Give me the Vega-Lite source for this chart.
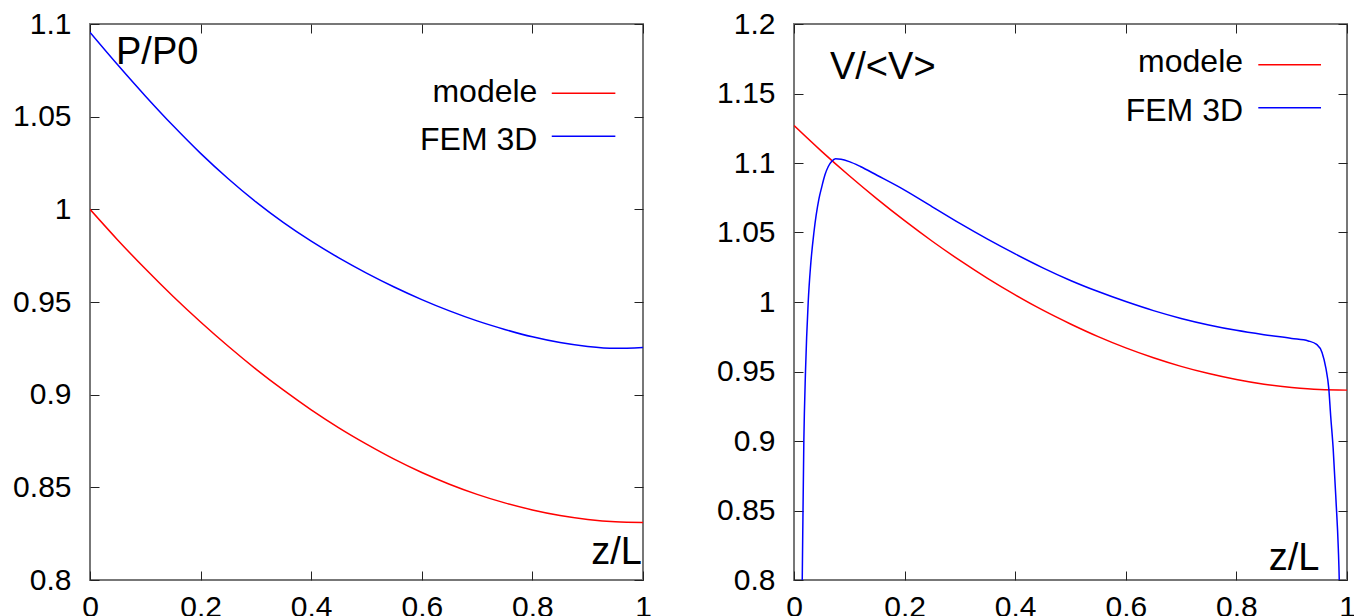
{
  "$schema": "https://vega.github.io/schema/vega-lite/v6.json",
  "background": "white",
  "padding": {"left": 11, "top": 8, "right": 0, "bottom": 0},
  "spacing": 62,
  "config": {
    "view": {"stroke": "#777777", "strokeWidth": 2},
    "axis": {"grid": false, "domain": false, "tickSize": -9, "tickColor": "#222222", "tickWidth": 1, "labelFont": "Liberation Sans", "labelFontSize": 30, "labelColor": "#000000", "labelFlush": false, "labelOverlap": false, "labelBound": false, "title": null},
    "text": {"font": "Liberation Sans", "color": "#000000"}
  },
  "datasets": {
    "left": [
      {"z": 0.0, "p": 1.0, "series": "modele"},
      {"z": 0.05, "p": 0.9835, "series": "modele"},
      {"z": 0.1, "p": 0.9679, "series": "modele"},
      {"z": 0.15, "p": 0.9531, "series": "modele"},
      {"z": 0.2, "p": 0.9392, "series": "modele"},
      {"z": 0.25, "p": 0.9261, "series": "modele"},
      {"z": 0.3, "p": 0.9138, "series": "modele"},
      {"z": 0.35, "p": 0.9024, "series": "modele"},
      {"z": 0.4, "p": 0.8918, "series": "modele"},
      {"z": 0.45, "p": 0.8821, "series": "modele"},
      {"z": 0.5, "p": 0.8733, "series": "modele"},
      {"z": 0.55, "p": 0.8652, "series": "modele"},
      {"z": 0.6, "p": 0.858, "series": "modele"},
      {"z": 0.65, "p": 0.8517, "series": "modele"},
      {"z": 0.7, "p": 0.8462, "series": "modele"},
      {"z": 0.75, "p": 0.8416, "series": "modele"},
      {"z": 0.8, "p": 0.8378, "series": "modele"},
      {"z": 0.85, "p": 0.8348, "series": "modele"},
      {"z": 0.9, "p": 0.8327, "series": "modele"},
      {"z": 0.95, "p": 0.8314, "series": "modele"},
      {"z": 1.0, "p": 0.831, "series": "modele"},
      {"z": 0.0, "p": 1.0955, "series": "FEM 3D"},
      {"z": 0.05, "p": 1.078, "series": "FEM 3D"},
      {"z": 0.1, "p": 1.0612, "series": "FEM 3D"},
      {"z": 0.15, "p": 1.0452, "series": "FEM 3D"},
      {"z": 0.2, "p": 1.0302, "series": "FEM 3D"},
      {"z": 0.25, "p": 1.0165, "series": "FEM 3D"},
      {"z": 0.3, "p": 1.004, "series": "FEM 3D"},
      {"z": 0.35, "p": 0.9928, "series": "FEM 3D"},
      {"z": 0.4, "p": 0.9828, "series": "FEM 3D"},
      {"z": 0.45, "p": 0.9738, "series": "FEM 3D"},
      {"z": 0.5, "p": 0.9656, "series": "FEM 3D"},
      {"z": 0.55, "p": 0.9581, "series": "FEM 3D"},
      {"z": 0.6, "p": 0.9513, "series": "FEM 3D"},
      {"z": 0.65, "p": 0.9452, "series": "FEM 3D"},
      {"z": 0.7, "p": 0.9398, "series": "FEM 3D"},
      {"z": 0.75, "p": 0.9352, "series": "FEM 3D"},
      {"z": 0.8, "p": 0.9312, "series": "FEM 3D"},
      {"z": 0.85, "p": 0.9281, "series": "FEM 3D"},
      {"z": 0.9, "p": 0.926, "series": "FEM 3D"},
      {"z": 0.95, "p": 0.925, "series": "FEM 3D"},
      {"z": 1.0, "p": 0.9255, "series": "FEM 3D"}
    ],
    "right": [
      {"z": 0.0, "v": 1.127, "series": "modele"},
      {"z": 0.05, "v": 1.1084, "series": "modele"},
      {"z": 0.1, "v": 1.0908, "series": "modele"},
      {"z": 0.15, "v": 1.0742, "series": "modele"},
      {"z": 0.2, "v": 1.0585, "series": "modele"},
      {"z": 0.25, "v": 1.0437, "series": "modele"},
      {"z": 0.3, "v": 1.0299, "series": "modele"},
      {"z": 0.35, "v": 1.017, "series": "modele"},
      {"z": 0.4, "v": 1.0051, "series": "modele"},
      {"z": 0.45, "v": 0.9941, "series": "modele"},
      {"z": 0.5, "v": 0.9842, "series": "modele"},
      {"z": 0.55, "v": 0.9751, "series": "modele"},
      {"z": 0.6, "v": 0.967, "series": "modele"},
      {"z": 0.65, "v": 0.9599, "series": "modele"},
      {"z": 0.7, "v": 0.9537, "series": "modele"},
      {"z": 0.75, "v": 0.9485, "series": "modele"},
      {"z": 0.8, "v": 0.9442, "series": "modele"},
      {"z": 0.85, "v": 0.9408, "series": "modele"},
      {"z": 0.9, "v": 0.9385, "series": "modele"},
      {"z": 0.95, "v": 0.937, "series": "modele"},
      {"z": 1.0, "v": 0.9366, "series": "modele"},
      {"z": 0.008, "v": 0.55, "series": "FEM 3D"},
      {"z": 0.0149, "v": 0.8, "series": "FEM 3D"},
      {"z": 0.0178, "v": 0.9, "series": "FEM 3D"},
      {"z": 0.0208, "v": 0.95, "series": "FEM 3D"},
      {"z": 0.0257, "v": 1.0, "series": "FEM 3D"},
      {"z": 0.03, "v": 1.026, "series": "FEM 3D"},
      {"z": 0.036, "v": 1.05, "series": "FEM 3D"},
      {"z": 0.045, "v": 1.074, "series": "FEM 3D"},
      {"z": 0.05, "v": 1.0825, "series": "FEM 3D"},
      {"z": 0.056, "v": 1.0915, "series": "FEM 3D"},
      {"z": 0.062, "v": 1.0975, "series": "FEM 3D"},
      {"z": 0.068, "v": 1.101, "series": "FEM 3D"},
      {"z": 0.075, "v": 1.103, "series": "FEM 3D"},
      {"z": 0.085, "v": 1.1027, "series": "FEM 3D"},
      {"z": 0.1, "v": 1.101, "series": "FEM 3D"},
      {"z": 0.12, "v": 1.0975, "series": "FEM 3D"},
      {"z": 0.15, "v": 1.0912, "series": "FEM 3D"},
      {"z": 0.2, "v": 1.0805, "series": "FEM 3D"},
      {"z": 0.25, "v": 1.0685, "series": "FEM 3D"},
      {"z": 0.3, "v": 1.0565, "series": "FEM 3D"},
      {"z": 0.35, "v": 1.0452, "series": "FEM 3D"},
      {"z": 0.4, "v": 1.0346, "series": "FEM 3D"},
      {"z": 0.45, "v": 1.0246, "series": "FEM 3D"},
      {"z": 0.5, "v": 1.0155, "series": "FEM 3D"},
      {"z": 0.55, "v": 1.0075, "series": "FEM 3D"},
      {"z": 0.6, "v": 1.0003, "series": "FEM 3D"},
      {"z": 0.65, "v": 0.9938, "series": "FEM 3D"},
      {"z": 0.7, "v": 0.9882, "series": "FEM 3D"},
      {"z": 0.75, "v": 0.9835, "series": "FEM 3D"},
      {"z": 0.8, "v": 0.9796, "series": "FEM 3D"},
      {"z": 0.85, "v": 0.9765, "series": "FEM 3D"},
      {"z": 0.9, "v": 0.9738, "series": "FEM 3D"},
      {"z": 0.93, "v": 0.972, "series": "FEM 3D"},
      {"z": 0.945, "v": 0.9695, "series": "FEM 3D"},
      {"z": 0.955, "v": 0.9635, "series": "FEM 3D"},
      {"z": 0.962, "v": 0.952, "series": "FEM 3D"},
      {"z": 0.967, "v": 0.938, "series": "FEM 3D"},
      {"z": 0.9705, "v": 0.918, "series": "FEM 3D"},
      {"z": 0.975, "v": 0.8945, "series": "FEM 3D"},
      {"z": 0.98, "v": 0.858, "series": "FEM 3D"},
      {"z": 0.9843, "v": 0.8225, "series": "FEM 3D"},
      {"z": 0.986, "v": 0.8, "series": "FEM 3D"},
      {"z": 0.992, "v": 0.55, "series": "FEM 3D"}
    ]
  },
  "hconcat": [
    {
      "width": 553,
      "height": 556,
      "layer": [
        {
          "data": {"name": "left"},
          "mark": {"type": "line", "interpolate": "monotone", "strokeWidth": 1.5, "clip": true},
          "encoding": {
            "x": {"field": "z", "type": "quantitative", "scale": {"domain": [0, 1], "nice": false, "zero": false}, "axis": {"orient": "bottom", "values": [0, 0.2, 0.4, 0.6, 0.8, 1], "format": "~g", "labelPadding": 21}},
            "y": {"field": "p", "type": "quantitative", "scale": {"domain": [0.8, 1.1], "nice": false, "zero": false}, "axis": {"orient": "left", "values": [0.8, 0.85, 0.9, 0.95, 1, 1.05, 1.1], "format": "~g", "labelPadding": 28}},
            "color": {"field": "series", "type": "nominal", "scale": {"domain": ["modele", "FEM 3D"], "range": ["#ff0000", "#0000ff"]}, "legend": null}
          }
        },
        {
          "data": {"name": "left"},
          "mark": {"type": "point", "opacity": 0},
          "encoding": {
            "x": {"field": "z", "type": "quantitative", "axis": {"orient": "top", "values": [0, 0.2, 0.4, 0.6, 0.8, 1], "labels": false}},
            "y": {"field": "p", "type": "quantitative", "axis": {"orient": "right", "values": [0.8, 0.85, 0.9, 0.95, 1, 1.05, 1.1], "labels": false}}
          }
        },
        {
          "data": {"values": [{"label": "P/P0"}]},
          "mark": {"type": "text", "fontSize": 38, "align": "left", "baseline": "alphabetic"},
          "encoding": {"x": {"datum": 0.047, "axis": null}, "y": {"datum": 1.0784, "axis": null}, "text": {"field": "label"}}
        },
        {
          "data": {"values": [{"label": "z/L"}]},
          "mark": {"type": "text", "fontSize": 38, "align": "right", "baseline": "alphabetic"},
          "encoding": {"x": {"datum": 0.998, "axis": null}, "y": {"datum": 0.8084, "axis": null}, "text": {"field": "label"}}
        },
        {
          "data": {"values": [{"label": "modele"}]},
          "mark": {"type": "text", "fontSize": 32, "align": "right", "baseline": "alphabetic"},
          "encoding": {"x": {"datum": 0.809, "axis": null}, "y": {"datum": 1.058, "axis": null}, "text": {"field": "label"}}
        },
        {
          "data": {"values": [{"label": "FEM 3D"}]},
          "mark": {"type": "text", "fontSize": 32, "align": "right", "baseline": "alphabetic"},
          "encoding": {"x": {"datum": 0.809, "axis": null}, "y": {"datum": 1.032, "axis": null}, "text": {"field": "label"}}
        },
        {
          "data": {"values": [{"series": "modele"}]},
          "mark": {"type": "rule", "strokeWidth": 1.5},
          "encoding": {"x": {"datum": 0.835, "axis": null}, "x2": {"datum": 0.95}, "y": {"datum": 1.0627, "axis": null}, "color": {"field": "series", "type": "nominal"}}
        },
        {
          "data": {"values": [{"series": "FEM 3D"}]},
          "mark": {"type": "rule", "strokeWidth": 1.5},
          "encoding": {"x": {"datum": 0.835, "axis": null}, "x2": {"datum": 0.95}, "y": {"datum": 1.0395, "axis": null}, "color": {"field": "series", "type": "nominal"}}
        }
      ],
      "resolve": {"axis": {"x": "independent", "y": "independent"}}
    },
    {
      "width": 553,
      "height": 556,
      "layer": [
        {
          "data": {"name": "right"},
          "mark": {"type": "line", "interpolate": "monotone", "strokeWidth": 1.5, "clip": true},
          "encoding": {
            "x": {"field": "z", "type": "quantitative", "scale": {"domain": [0, 1], "nice": false, "zero": false}, "axis": {"orient": "bottom", "values": [0, 0.2, 0.4, 0.6, 0.8, 1], "format": "~g", "labelPadding": 21}},
            "y": {"field": "v", "type": "quantitative", "scale": {"domain": [0.8, 1.2], "nice": false, "zero": false}, "axis": {"orient": "left", "values": [0.8, 0.85, 0.9, 0.95, 1, 1.05, 1.1, 1.15, 1.2], "format": "~g", "labelPadding": 28}},
            "color": {"field": "series", "type": "nominal", "scale": {"domain": ["modele", "FEM 3D"], "range": ["#ff0000", "#0000ff"]}, "legend": null}
          }
        },
        {
          "data": {"name": "right"},
          "mark": {"type": "point", "opacity": 0, "clip": true},
          "encoding": {
            "x": {"field": "z", "type": "quantitative", "axis": {"orient": "top", "values": [0, 0.2, 0.4, 0.6, 0.8, 1], "labels": false}},
            "y": {"field": "v", "type": "quantitative", "axis": {"orient": "right", "values": [0.8, 0.85, 0.9, 0.95, 1, 1.05, 1.1, 1.15, 1.2], "labels": false}}
          }
        },
        {
          "data": {"values": [{"label": "V/<V>"}]},
          "mark": {"type": "text", "fontSize": 38, "align": "left", "baseline": "alphabetic"},
          "encoding": {"x": {"datum": 0.065, "axis": null}, "y": {"datum": 1.1604, "axis": null}, "text": {"field": "label"}}
        },
        {
          "data": {"values": [{"label": "z/L"}]},
          "mark": {"type": "text", "fontSize": 38, "align": "right", "baseline": "alphabetic"},
          "encoding": {"x": {"datum": 0.95, "axis": null}, "y": {"datum": 0.8074, "axis": null}, "text": {"field": "label"}}
        },
        {
          "data": {"values": [{"label": "modele"}]},
          "mark": {"type": "text", "fontSize": 32, "align": "right", "baseline": "alphabetic"},
          "encoding": {"x": {"datum": 0.812, "axis": null}, "y": {"datum": 1.1653, "axis": null}, "text": {"field": "label"}}
        },
        {
          "data": {"values": [{"label": "FEM 3D"}]},
          "mark": {"type": "text", "fontSize": 32, "align": "right", "baseline": "alphabetic"},
          "encoding": {"x": {"datum": 0.812, "axis": null}, "y": {"datum": 1.1305, "axis": null}, "text": {"field": "label"}}
        },
        {
          "data": {"values": [{"series": "modele"}]},
          "mark": {"type": "rule", "strokeWidth": 1.5},
          "encoding": {"x": {"datum": 0.8396, "axis": null}, "x2": {"datum": 0.953}, "y": {"datum": 1.1707, "axis": null}, "color": {"field": "series", "type": "nominal"}}
        },
        {
          "data": {"values": [{"series": "FEM 3D"}]},
          "mark": {"type": "rule", "strokeWidth": 1.5},
          "encoding": {"x": {"datum": 0.8396, "axis": null}, "x2": {"datum": 0.953}, "y": {"datum": 1.1398, "axis": null}, "color": {"field": "series", "type": "nominal"}}
        }
      ],
      "resolve": {"axis": {"x": "independent", "y": "independent"}}
    }
  ]
}
